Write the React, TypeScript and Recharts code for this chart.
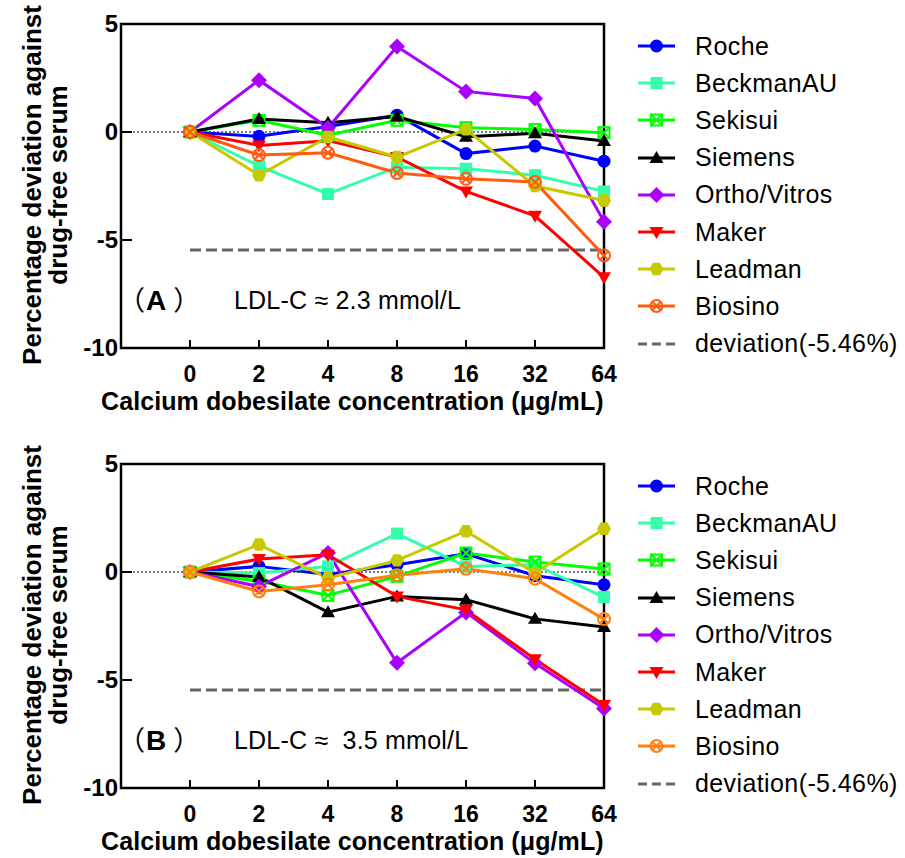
import { LineChart, Line, XAxis, YAxis, ReferenceLine, ReferenceArea } from "recharts"

const concLabels = ["0", "2", "4", "8", "16", "32", "64"]
const yTicks = [5, 0, -5, -10]
const deviation = -5.46

const seriesNames = ["Roche", "BeckmanAU", "Sekisui", "Siemens", "Ortho/Vitros", "Maker", "Leadman", "Biosino"]

// panel A, LDL-C ~ 2.3 mmol/L
const rocheA = [0, -0.2, 0.25, 0.78, -1.0, -0.65, -1.35]
const beckmanA = [0, -1.58, -2.87, -1.63, -1.7, -2.0, -2.75]
const sekisuiA = [0, 0.54, -0.15, 0.54, 0.2, 0.12, -0.03]
const siemensA = [0, 0.6, 0.43, 0.72, -0.22, -0.06, -0.42]
const orthoA = [0, 2.4, 0.2, 3.96, 1.88, 1.55, -4.15]
const makerA = [0, -0.62, -0.4, -1.16, -2.75, -3.88, -6.73]
const leadmanA = [0, -2.0, -0.23, -1.16, 0.12, -2.5, -3.17]
const biosinoA = [0, -1.07, -0.96, -1.9, -2.17, -2.31, -5.72]

// panel B, LDL-C ~ 3.5 mmol/L
const rocheB = [0, 0.26, -0.12, 0.34, 0.84, -0.17, -0.59]
const beckmanB = [0, -0.05, 0.26, 1.78, 0.26, 0.34, -1.16]
const sekisuiB = [0, -0.43, -1.08, -0.2, 0.88, 0.46, 0.14]
const siemensB = [0, -0.23, -1.86, -1.13, -1.28, -2.17, -2.55]
const orthoB = [0, -0.67, 0.88, -4.2, -1.87, -4.23, -6.32]
const makerB = [0, 0.6, 0.8, -1.13, -1.75, -4.04, -6.16]
const leadmanB = [0, 1.27, -0.28, 0.54, 1.89, -0.05, 2.0]
const biosinoB = [0, -0.9, -0.59, -0.15, 0.15, -0.31, -2.18]

const shapes = ["circle", "square", "boxX", "triUp", "diamond", "triDown", "hexagon", "circleX"]
const colorsA = ["#0000FF", "#33FFAA", "#00FF00", "#000000", "#AA00FF", "#FF0000", "#C8C800", "#FF5A10"]
const colorsB = ["#0000FF", "#33FFAA", "#00FF00", "#000000", "#AA00FF", "#FF0000", "#C8C800", "#FF8010"]

const FONT = "'Liberation Sans', Arial, sans-serif"

function buildRows(series: number[][]) {
  return concLabels.map((_, i) => {
    const row: any = { idx: i }
    seriesNames.forEach((name, s) => {
      row[name] = series[s][i]
    })
    return row
  })
}

const dataA = buildRows([rocheA, beckmanA, sekisuiA, siemensA, orthoA, makerA, leadmanA, biosinoA])
const dataB = buildRows([rocheB, beckmanB, sekisuiB, siemensB, orthoB, makerB, leadmanB, biosinoB])

function Marker({ shape, cx, cy, color }: { shape: string; cx: number; cy: number; color: string }) {
  if (cx == null || cy == null) return null
  switch (shape) {
    case "circle":
      return <circle cx={cx} cy={cy} r={6.5} fill={color} />
    case "square":
      return <rect x={cx - 6} y={cy - 6} width={12} height={12} fill={color} />
    case "boxX":
      return (
        <g stroke={color} strokeWidth={2} fill="none">
          <rect x={cx - 5.5} y={cy - 5.5} width={11} height={11} />
          <line x1={cx - 5.5} y1={cy - 5.5} x2={cx + 5.5} y2={cy + 5.5} />
          <line x1={cx - 5.5} y1={cy + 5.5} x2={cx + 5.5} y2={cy - 5.5} />
        </g>
      )
    case "triUp":
      return <polygon points={`${cx},${cy - 7} ${cx + 7},${cy + 5} ${cx - 7},${cy + 5}`} fill={color} />
    case "diamond":
      return <polygon points={`${cx},${cy - 8} ${cx + 8},${cy} ${cx},${cy + 8} ${cx - 8},${cy}`} fill={color} />
    case "triDown":
      return <polygon points={`${cx - 7},${cy - 5} ${cx + 7},${cy - 5} ${cx},${cy + 7}`} fill={color} />
    case "hexagon":
      return (
        <polygon
          points={`${cx - 7},${cy} ${cx - 3.5},${cy - 6.2} ${cx + 3.5},${cy - 6.2} ${cx + 7},${cy} ${cx + 3.5},${cy + 6.2} ${cx - 3.5},${cy + 6.2}`}
          fill={color}
        />
      )
    case "circleX":
      return (
        <g stroke={color} strokeWidth={2} fill="none">
          <circle cx={cx} cy={cy} r={6} />
          <line x1={cx - 4.2} y1={cy - 4.2} x2={cx + 4.2} y2={cy + 4.2} />
          <line x1={cx - 4.2} y1={cy + 4.2} x2={cx + 4.2} y2={cy - 4.2} />
        </g>
      )
  }
  return null
}

const XTick = ({ x, y, payload }: any) => (
  <g>
    <line x1={x} x2={x} y1={y} y2={y - 8} stroke="#000" strokeWidth={2} />
    <text x={x} y={y + 34} textAnchor="middle" fontFamily={FONT} fontWeight="bold" fontSize={23} fill="#000">
      {concLabels[payload.value]}
    </text>
  </g>
)

const YTick = ({ x, y, payload }: any) => (
  <g>
    <line x1={x} x2={x + 11} y1={y} y2={y} stroke="#000" strokeWidth={2} />
    <text x={x - 3} y={y + 8} textAnchor="end" fontFamily={FONT} fontWeight="bold" fontSize={24} fill="#000">
      {payload.value}
    </text>
  </g>
)

function Panel({ top, data, colors, tag, ldl }: { top: number; data: any[]; colors: string[]; tag: string; ldl: string }) {
  return (
    <div style={{ position: "absolute", left: 0, top, width: 905, height: 440 }}>
      <div style={{ position: "absolute", left: 0, top: 0 }}>
        <LineChart width={630} height={420} data={data} margin={{ top: 24, right: 26, left: 0, bottom: 0 }}>
          <XAxis
            dataKey="idx"
            type="number"
            domain={[-1, 6]}
            ticks={[0, 1, 2, 3, 4, 5, 6]}
            axisLine={false}
            tickLine={false}
            tickSize={0}
            tickMargin={0}
            height={72}
            tick={<XTick />}
            interval={0}
          />
          <YAxis
            type="number"
            domain={[-10, 5]}
            ticks={yTicks}
            axisLine={false}
            tickLine={false}
            tickSize={0}
            tickMargin={0}
            width={121}
            tick={<YTick />}
            interval={0}
          />
          <ReferenceLine y={0} stroke="#000" strokeWidth={1} strokeDasharray="2 2" />
          <ReferenceLine
            segment={[{ x: 0, y: deviation }, { x: 6, y: deviation }]}
            stroke="#666"
            strokeWidth={3}
            strokeDasharray="11 5"
          />
          {seriesNames.map((name, s) => (
            <Line
              key={name}
              type="linear"
              dataKey={name}
              stroke={colors[s]}
              strokeWidth={3}
              isAnimationActive={false}
              dot={(p: any) => <Marker key={`${name}-${p.index}`} shape={shapes[s]} cx={p.cx} cy={p.cy} color={colors[s]} />}
              activeDot={false}
            />
          ))}
          <ReferenceArea x1={-1} x2={6} y1={-10} y2={5} fill="none" stroke="#000" strokeWidth={2.5} ifOverflow="visible" />
        </LineChart>
      </div>

      {/* y axis title */}
      <div
        style={{
          position: "absolute",
          left: 45,
          top: 185,
          transform: "translate(-50%, -50%) rotate(-90deg)",
          whiteSpace: "nowrap",
          textAlign: "center",
          fontFamily: FONT,
          fontWeight: "bold",
          fontSize: 26,
          lineHeight: "26px",
        }}
      >
        Percentage deviation against
        <br />
        drug-free serum
      </div>

      {/* x axis title */}
      <div
        style={{
          position: "absolute",
          left: 101,
          top: 386,
          whiteSpace: "nowrap",
          fontFamily: FONT,
          fontWeight: "bold",
          fontSize: 25,
          letterSpacing: 0.1,
          lineHeight: "30px",
        }}
      >
        Calcium dobesilate concentration (μg/mL)
      </div>

      {/* panel tag */}
      <div style={{ position: "absolute", left: 118, top: 282, whiteSpace: "nowrap", fontSize: 27, lineHeight: "34px" }}>
        <span style={{ fontFamily: "'Noto Sans CJK SC'" }}>（</span>
        <span style={{ fontFamily: FONT, fontWeight: "bold", fontSize: 28, marginLeft: 1, marginRight: 7 }}>{tag}</span>
        <span style={{ fontFamily: "'Noto Sans CJK SC'" }}>）</span>
      </div>
      <div
        style={{
          position: "absolute",
          left: 234,
          top: 285,
          whiteSpace: "pre",
          fontFamily: FONT,
          fontSize: 25,
          letterSpacing: 0.2,
          lineHeight: "30px",
        }}
      >
        {ldl}
      </div>

      {/* legend */}
      {seriesNames.map((name, s) => (
        <div key={name} style={{ position: "absolute", left: 636, top: 46 + s * 37.2 - 15, height: 30, display: "flex", alignItems: "center" }}>
          <svg width={42} height={20}>
            <line x1={2} x2={39} y1={10} y2={10} stroke={colors[s]} strokeWidth={3} />
            <Marker shape={shapes[s]} cx={20.5} cy={10} color={colors[s]} />
          </svg>
          <span style={{ position: "absolute", left: 59, fontFamily: FONT, fontSize: 25, letterSpacing: 0.4, whiteSpace: "nowrap" }}>{name}</span>
        </div>
      ))}
      <div style={{ position: "absolute", left: 636, top: 46 + 8 * 37.2 - 15, height: 30, display: "flex", alignItems: "center" }}>
        <svg width={42} height={20}>
          <line x1={2} x2={39} y1={10} y2={10} stroke="#666" strokeWidth={3} strokeDasharray="9 5" />
        </svg>
        <span style={{ position: "absolute", left: 59, fontFamily: FONT, fontSize: 25, letterSpacing: 0.4, whiteSpace: "nowrap" }}>
          deviation(-5.46%)
        </span>
      </div>
    </div>
  )
}

export default function App() {
  return (
    <div style={{ position: "absolute", left: 0, top: 0, width: 905, height: 858, background: "#fff" }}>
      <Panel top={0} data={dataA} colors={colorsA} tag="A" ldl="LDL-C ≈ 2.3 mmol/L" />
      <Panel top={440} data={dataB} colors={colorsB} tag="B" ldl="LDL-C ≈  3.5 mmol/L" />
    </div>
  )
}
